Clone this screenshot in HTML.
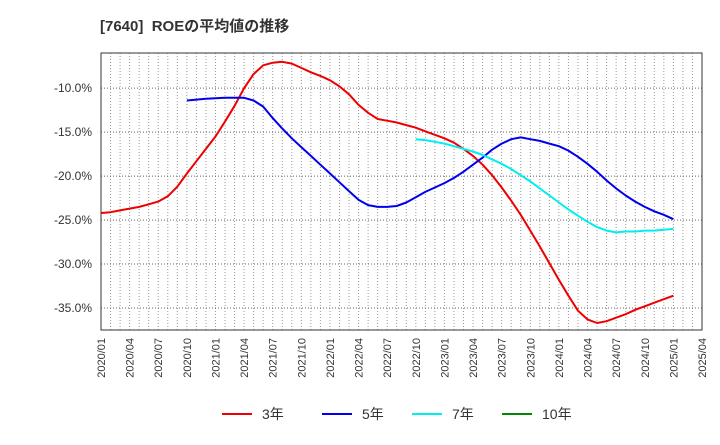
<!DOCTYPE html>
<html><head><meta charset="utf-8"><style>
body{margin:0;background:#fff;font-family:"Liberation Sans","Noto Sans CJK JP",sans-serif}
</style></head><body>
<svg id="c" width="720" height="440" xmlns="http://www.w3.org/2000/svg"></svg>
<script>
const xTickLabels=["2020/01","2020/04","2020/07","2020/10","2021/01","2021/04","2021/07","2021/10","2022/01","2022/04","2022/07","2022/10","2023/01","2023/04","2023/07","2023/10","2024/01","2024/04","2024/07","2024/10","2025/01","2025/04"];
const yTicks=[-10,-15,-20,-25,-30,-35];
const s3=[-24.2,-24.1,-23.9,-23.7,-23.5,-23.2,-22.9,-22.3,-21.2,-19.7,-18.3,-16.9,-15.5,-13.8,-12.0,-10.0,-8.4,-7.4,-7.1,-7.0,-7.2,-7.7,-8.2,-8.6,-9.1,-9.8,-10.7,-11.9,-12.8,-13.5,-13.7,-13.9,-14.2,-14.5,-14.9,-15.3,-15.7,-16.2,-16.9,-17.7,-18.7,-19.9,-21.3,-22.8,-24.4,-26.2,-28.0,-29.9,-31.8,-33.6,-35.3,-36.3,-36.7,-36.5,-36.1,-35.7,-35.2,-34.8,-34.4,-34.0,-33.6];
const s5=[null,null,null,null,null,null,null,null,null,-11.4,-11.3,-11.2,-11.15,-11.1,-11.1,-11.1,-11.4,-12.1,-13.4,-14.6,-15.7,-16.7,-17.7,-18.7,-19.7,-20.7,-21.7,-22.7,-23.3,-23.5,-23.5,-23.4,-23.0,-22.4,-21.8,-21.3,-20.8,-20.2,-19.5,-18.7,-17.9,-17.0,-16.3,-15.8,-15.6,-15.8,-16.0,-16.3,-16.6,-17.1,-17.8,-18.6,-19.5,-20.5,-21.4,-22.2,-22.9,-23.5,-24.0,-24.4,-24.9];
const s7=[null,null,null,null,null,null,null,null,null,null,null,null,null,null,null,null,null,null,null,null,null,null,null,null,null,null,null,null,null,null,null,null,null,-15.8,-15.9,-16.1,-16.3,-16.6,-16.9,-17.2,-17.6,-18.1,-18.6,-19.2,-19.9,-20.6,-21.4,-22.2,-23.0,-23.8,-24.5,-25.2,-25.8,-26.2,-26.4,-26.3,-26.3,-26.2,-26.2,-26.1,-26.0];
const s10=[];
const svg=document.getElementById('c');const NS='http://www.w3.org/2000/svg';
const L=101,R=702,T=53,B=330,yMax=-6.0,yMin=-37.5,nMonths=63;
const X=i=>L+(R-L)*i/nMonths;const Y=v=>T+(yMax-v)/(yMax-yMin)*(B-T);
function el(t,a,p){const e=document.createElementNS(NS,t);for(const k in a)e.setAttribute(k,a[k]);(p||svg).appendChild(e);return e;}
let t=el('text',{x:100,y:31,'font-size':15,'font-weight':'bold',fill:'#333'});t.textContent='[7640]\u00a0\u00a0ROEの平均値の推移';

const g=el('g',{});
for(let i=1;i<nMonths;i++)el('line',{x1:X(i),x2:X(i),y1:T,y2:B,stroke:'#999','stroke-width':1,'stroke-dasharray':'1,2'},g);
yTicks.forEach(v=>{el('line',{x1:L,x2:R,y1:Y(v),y2:Y(v),stroke:'#666','stroke-width':1,'stroke-dasharray':'1,2'},g);
 const tx=el('text',{x:92,y:Y(v)+4,'font-size':12,'text-anchor':'end',fill:'#333'});tx.textContent=v.toFixed(1)+'%';
 });
xTickLabels.forEach((s,k)=>{const x=X(k*3);const tx=el('text',{x:0,y:0,'font-size':11,'text-anchor':'end',fill:'#333',transform:`translate(${x+4},338) rotate(-90)`});tx.textContent=s;
 });
const fr=el('rect',{x:L,y:T,width:R-L,height:B-T,fill:'none',stroke:'#333','stroke-width':1});

function line(d,c,n){let p='';d.forEach((v,i)=>{if(v==null)return;p+=(p?'L':'M')+X(i).toFixed(1)+','+Y(v).toFixed(1);});
 if(!p)return;const e=el('path',{d:p,fill:'none',stroke:c,'stroke-width':2,'stroke-linejoin':'round'});
 }
line(s3,'#ee0000','series-3yr');line(s5,'#0000ee','series-5yr');line(s7,'#00eeee','series-7yr');line(s10,'#008800','series-10yr');
[['3年','#ee0000',222],['5年','#0000ee',322],['7年','#00eeee',412],['10年','#008800',502]].forEach(([n,c,x])=>{
 const lg=el('g',{});
 el('line',{x1:x,x2:x+30,y1:414,y2:414,stroke:c,'stroke-width':2},lg);
 const tx=el('text',{x:x+40,y:419,'font-size':14,fill:'#333'},lg);tx.textContent=n;});
</script></body></html>
